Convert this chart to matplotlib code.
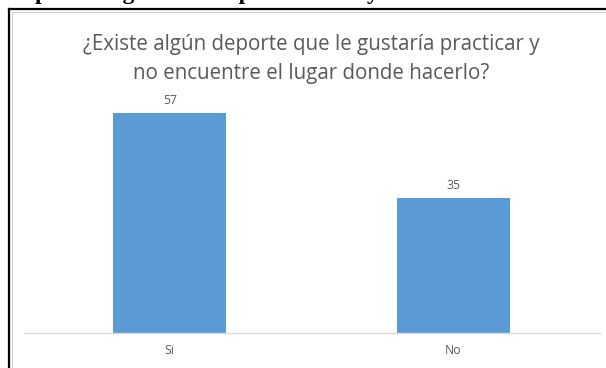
import matplotlib
matplotlib.use("Agg")
import matplotlib.pyplot as plt
from matplotlib.lines import Line2D

# datos de la encuesta
categorias = ["Si", "No"]
respuestas = [57, 35]
titulo = "¿Existe algún deporte que le gustaría practicar y\nno encuentre el lugar donde hacerlo?"

# encabezado del documento (queda cortado arriba)
encabezado = ["prá", "algún", "deporte", "y"]
encabezado_x = [35, 104, 215, 367]

W, H = 606, 368
fig = plt.figure(figsize=(W / 100, H / 100), dpi=100)
fig.patch.set_facecolor("white")

gris = "#595959"
azul = "#5B9BD5"

# marco del grafico
fig.add_artist(Line2D([9 / W, 9 / W], [0, 1 - 9 / H], color="black", lw=1.6))
fig.add_artist(Line2D([9 / W, 1], [1 - 9 / H, 1 - 9 / H], color="black", lw=1.6))
fig.add_artist(Line2D([11.5 / W, 11.5 / W], [0, 1 - 11.5 / H], color="#d0d0d0", lw=0.8))
fig.add_artist(Line2D([11.5 / W, 1], [1 - 11.5 / H, 1 - 11.5 / H], color="#d0d0d0", lw=0.8))

for palabra, x in zip(encabezado, encabezado_x):
    fig.text(x / W, 1.0 + 1 / H, palabra, family="Liberation Serif", weight="bold",
             fontsize=17, ha="left", va="baseline", color="black")

# area de trazado
ax_left, ax_right = 28, 595
ax_bottom, ax_top = 333, 95
ax = fig.add_axes([ax_left / W, 1 - ax_bottom / H,
                   (ax_right - ax_left) / W, (ax_bottom - ax_top) / H])
ax.set_facecolor("none")

pos = range(len(categorias))
barras = ax.bar(pos, respuestas, width=0.4, color=azul, zorder=2)
ax.set_xlim(-0.5, len(categorias) - 0.5)
ax.set_ylim(0, (ax_bottom - ax_top) / 3.86)

for b, v in zip(barras, respuestas):
    ax.annotate(str(v), (b.get_x() + b.get_width() / 2, v), xytext=(0, 4),
                textcoords="offset points", ha="center", va="bottom",
                family="Open Sans", fontsize=8.8, color=gris)

ax.set_xticks(list(pos))
ax.set_xticklabels(categorias, family="Open Sans", fontsize=8.8, color=gris)
ax.tick_params(axis="x", length=0, pad=8)
ax.set_yticks([])
for lado in ["top", "right", "left", "bottom"]:
    ax.spines[lado].set_visible(False)

# linea base del eje
fig.add_artist(Line2D([24 / W, 1 - 6 / W], [1 - ax_bottom / H, 1 - ax_bottom / H],
                      color="#d9d9d9", lw=1.0))

fig.text(311 / W, 1 - 59 / H, titulo, family="Open Sans", fontsize=14.8,
         color=gris, ha="center", va="center", linespacing=1.45)

fig.savefig("out.png", dpi=100)
